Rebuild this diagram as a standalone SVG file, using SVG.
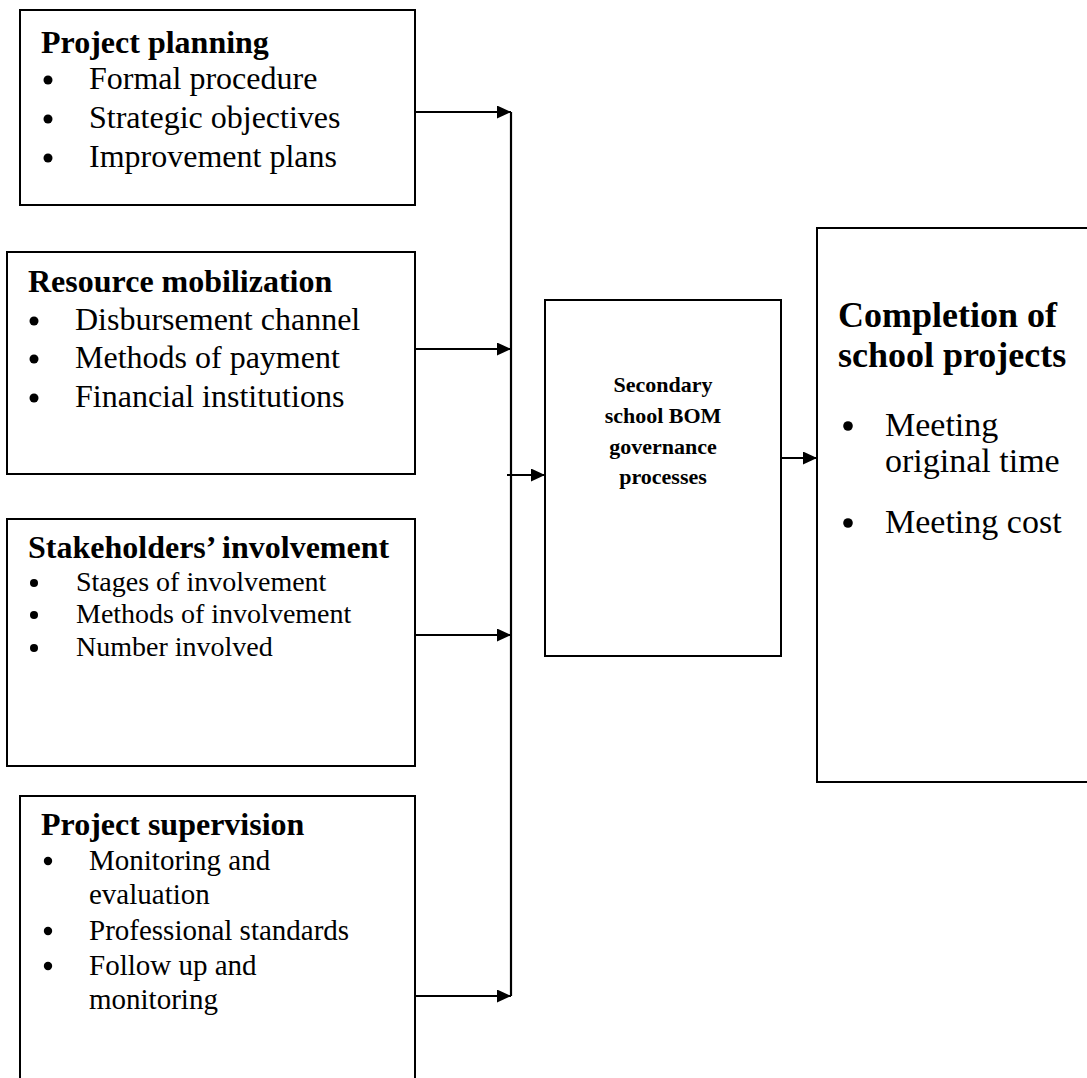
<svg xmlns="http://www.w3.org/2000/svg" width="1087" height="1078" viewBox="0 0 1087 1078">
<defs>
<style>
.box{fill:#fff;stroke:#000;stroke-width:2}
.ttl{font-family:"Liberation Serif","Times New Roman",serif;font-weight:bold;font-size:32px;fill:#000}
.it{font-family:"Liberation Serif","Times New Roman",serif;font-size:32px;fill:#000}
.dot{fill:#000}
.conn{fill:none;stroke:#000;stroke-width:2.2}
</style>
<marker id="ah" markerUnits="userSpaceOnUse" markerWidth="15" markerHeight="14" refX="14" refY="6.5" orient="auto">
<path d="M0,0 L14,6.5 L0,13 z" fill="#000"/>
</marker>
</defs>
<rect width="1087" height="1078" fill="#fff"/>

<g id="connectors">
<line class="conn" x1="511" y1="112" x2="511" y2="996"/>
<line class="conn" x1="415" y1="112" x2="511" y2="112" marker-end="url(#ah)"/>
<line class="conn" x1="415" y1="349" x2="511" y2="349" marker-end="url(#ah)"/>
<line class="conn" x1="415" y1="635" x2="511" y2="635" marker-end="url(#ah)"/>
<line class="conn" x1="415" y1="996" x2="511" y2="996" marker-end="url(#ah)"/>
<line class="conn" x1="507" y1="475" x2="545" y2="475" marker-end="url(#ah)"/>
<line class="conn" x1="781" y1="458" x2="817" y2="458" marker-end="url(#ah)"/>
</g>

<g id="planning">
<rect class="box" x="20" y="10" width="395" height="195"/>
<text class="ttl" x="41" y="53">Project planning</text>
<circle class="dot" cx="48" cy="80" r="4.5"/><text class="it" x="89" y="89">Formal procedure</text>
<circle class="dot" cx="48" cy="119" r="4.5"/><text class="it" x="89" y="128">Strategic objectives</text>
<circle class="dot" cx="48" cy="158" r="4.5"/><text class="it" x="89" y="167">Improvement plans</text>
</g>

<g id="resource">
<rect class="box" x="7" y="252" width="408" height="222"/>
<text class="ttl" x="28" y="292">Resource mobilization</text>
<circle class="dot" cx="34" cy="321" r="4.5"/><text class="it" x="75" y="330">Disbursement channel</text>
<circle class="dot" cx="34" cy="359" r="4.5"/><text class="it" x="75" y="368">Methods of payment</text>
<circle class="dot" cx="34" cy="398" r="4.5"/><text class="it" x="75" y="407">Financial institutions</text>
</g>

<g id="stakeholders">
<rect class="box" x="7" y="519" width="408" height="247"/>
<text class="ttl" x="28" y="558">Stakeholders’ involvement</text>
<circle class="dot" cx="34" cy="583" r="4"/><text class="it" x="76" y="591" style="font-size:28px">Stages of involvement</text>
<circle class="dot" cx="34" cy="615" r="4"/><text class="it" x="76" y="623" style="font-size:28px">Methods of involvement</text>
<circle class="dot" cx="34" cy="648" r="4"/><text class="it" x="76" y="656" style="font-size:28px">Number involved</text>
</g>

<g id="supervision">
<path class="box" d="M20,1090 L20,796 L415,796 L415,1090"/>
<text class="ttl" x="41" y="835">Project supervision</text>
<circle class="dot" cx="48" cy="861" r="4.2"/><text class="it" x="89" y="870" style="font-size:29px">Monitoring and</text>
<text class="it" x="89" y="904" style="font-size:29px">evaluation</text>
<circle class="dot" cx="48" cy="931" r="4.2"/><text class="it" x="89" y="940" style="font-size:29px">Professional standards</text>
<circle class="dot" cx="48" cy="966" r="4.2"/><text class="it" x="89" y="975" style="font-size:29px">Follow up and</text>
<text class="it" x="89" y="1009" style="font-size:29px">monitoring</text>
</g>

<g id="bom">
<rect class="box" x="545" y="300" width="236" height="356"/>
<g class="ttl" style="font-size:22px" text-anchor="middle">
<text x="663" y="392">Secondary</text>
<text x="663" y="423">school BOM</text>
<text x="663" y="454">governance</text>
<text x="663" y="484">processes</text>
</g>
</g>

<g id="completion">
<path class="box" d="M1095,228 L817,228 L817,782 L1095,782"/>
<text class="ttl" x="838" y="327" style="font-size:36px">Completion of</text>
<text class="ttl" x="838" y="367" style="font-size:36px">school projects</text>
<circle class="dot" cx="848" cy="426" r="4.8"/><text class="it" x="885" y="436" style="font-size:34px">Meeting</text>
<text class="it" x="885" y="472" style="font-size:34px">original time</text>
<circle class="dot" cx="848" cy="523" r="4.8"/><text class="it" x="885" y="533" style="font-size:34px">Meeting cost</text>
</g>
</svg>
